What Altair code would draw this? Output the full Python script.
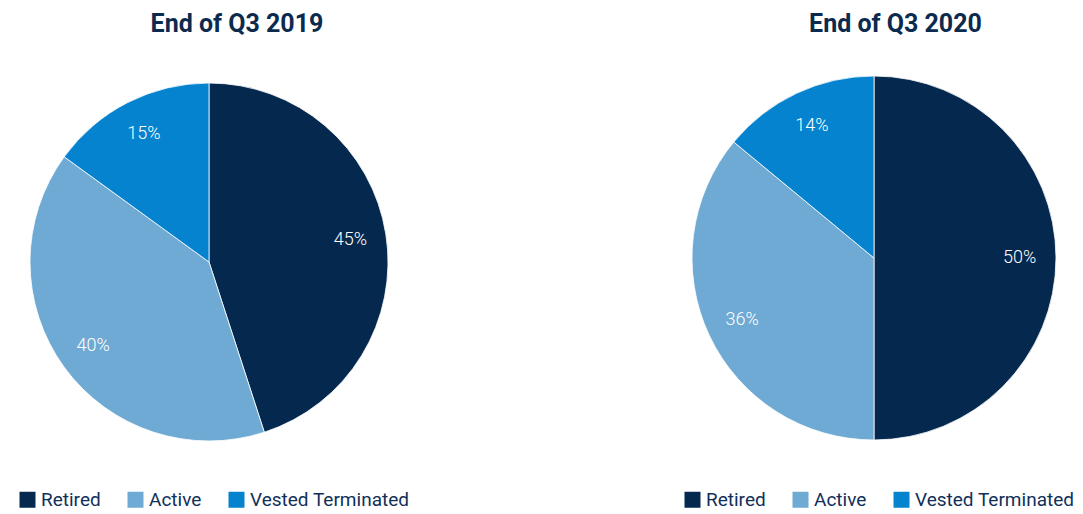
import altair as alt
import pandas as pd

categories = ["Retired", "Active", "Vested Terminated"]
share_2019 = [45, 40, 15]
share_2020 = [50, 36, 14]
titles = ["End of Q3 2019", "End of Q3 2020"]
colors = ["#05284e", "#6eaad3", "#0683cf"]

FONT = "Roboto, sans-serif"
H = 440


def panel(values, title, width, cx, cy, r, legend_x, title_dx):
    df = pd.DataFrame({
        "category": categories,
        "share": values,
        "order": list(range(len(categories))),
        "label": [f"{v}%" for v in values],
    })
    base = alt.Chart(df).encode(
        theta=alt.Theta("share:Q", stack=True),
        order=alt.Order("order:Q"),
    )
    color = alt.Color(
        "category:N",
        sort=categories,
        scale=alt.Scale(domain=categories, range=colors),
        legend=alt.Legend(
            title=None, orient="none", legendX=legend_x, legendY=443,
            direction="horizontal", symbolType="square", symbolSize=256,
            symbolStrokeWidth=0, labelFont=FONT, labelFontSize=19,
            labelColor="#10305a", columnPadding=25, labelOffset=4,
            labelLimit=300, padding=0,
        ),
    )
    arcs = base.mark_arc(outerRadius=r, stroke="white", strokeWidth=0.8).encode(
        color=color, x=alt.value(cx), y=alt.value(cy)
    )
    text = base.mark_text(radius=r * 0.8, font=FONT, fontSize=18, fontWeight=300,
                          color="white").encode(
        text="label:N", x=alt.value(cx), y=alt.value(cy)
    )
    return alt.layer(arcs, text).properties(
        width=width, height=H,
        title=alt.TitleParams(
            title, anchor="middle", dx=title_dx, font=FONT, fontSize=25,
            fontWeight="bold", color="#0b2a4e", offset=10,
        ),
    )


p1 = panel(share_2019, titles[0], 420, 201, 215, 179, 10, 19)
p2 = panel(share_2020, titles[1], 627, 426, 211, 182, 235, 134)

chart = (
    alt.hconcat(p1, p2, spacing=20)
    .resolve_scale(color="independent")
    .resolve_legend(color="independent")
    .properties(padding={"top": 4, "left": 0, "right": 0, "bottom": 0})
    .configure_view(stroke=None)
)

chart.save("out.html", embed_options={"renderer": "svg", "actions": False})
